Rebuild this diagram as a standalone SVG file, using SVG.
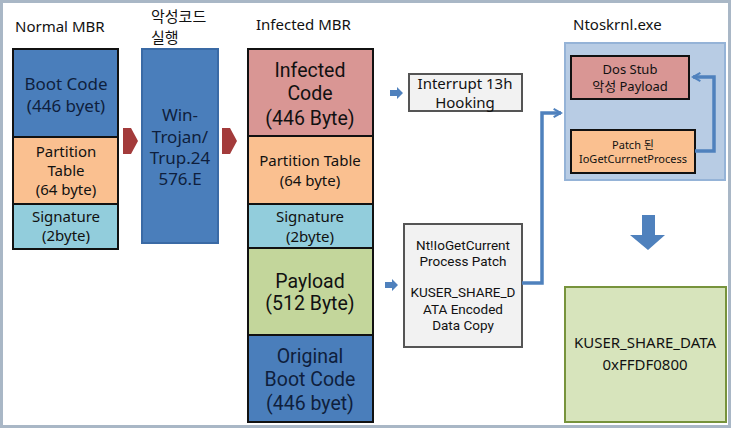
<svg xmlns="http://www.w3.org/2000/svg" width="731" height="428" viewBox="0 0 731 428">
<defs>
<style>
text{font-family:"Noto Sans","Noto Sans CJK KR",sans-serif;text-anchor:middle;fill:#111;}
.big{font-family:Roboto,"Noto Sans",sans-serif;font-size:19.5px;}
.sm{font-family:Roboto,"Noto Sans",sans-serif;font-size:13.5px;}
.dk{fill:#0f1f3d;}
.blk{stroke:#111;stroke-width:2;}
.gray{fill:#f2f2f2;stroke:#555;stroke-width:2;}
.conn{fill:none;stroke:#4f81bd;stroke-width:3.5;}
.h{text-anchor:start;font-size:15px;}
</style>
<marker id="ah" viewBox="0 0 10 10" refX="8" refY="5" markerWidth="3" markerHeight="3.4" orient="auto" markerUnits="strokeWidth">
<path d="M1,1 L8,5 L1,9" fill="none" stroke="#4f81bd" stroke-width="2"/>
</marker>
</defs>
<rect x="0" y="0" width="731" height="428" fill="#fff"/>
<rect x="1.5" y="1.5" width="728" height="425" fill="none" stroke="#a9b7c6" stroke-width="3"/>

<g id="normal-mbr">
<text class="h" x="15" y="32">Normal MBR</text>
<rect x="13" y="49" width="105" height="88" fill="#4a7ebb" class="blk"/>
<rect x="13" y="137" width="105" height="67" fill="#fac090" class="blk"/>
<rect x="13" y="204" width="105" height="45" fill="#92cddc" class="blk"/>
<text class="dk" x="66" y="90" font-size="17">Boot Code</text>
<text class="dk" x="66" y="112" font-size="17">(446 byet)</text>
<text x="66" y="157" font-size="15">Partition</text>
<text x="66" y="176" font-size="15">Table</text>
<text x="66" y="195" font-size="15">(64 byte)</text>
<text x="66" y="222" font-size="15">Signature</text>
<text x="66" y="241" font-size="15">(2byte)</text>
</g>

<g id="malware">
<text class="h" x="151" y="22">악성코드</text>
<text class="h" x="151" y="43">실행</text>
<rect x="142" y="49" width="76" height="194" fill="#4a7ebb" stroke="#3a6aa5" stroke-width="2"/>
<text class="dk" x="180" y="121" font-size="17">Win-</text>
<text class="dk" x="180" y="143" font-size="17">Trojan/</text>
<text class="dk" x="180" y="164" font-size="17">Trup.24</text>
<text class="dk" x="180" y="185" font-size="17">576.E</text>
</g>

<g id="infected-mbr">
<text class="h" x="256" y="30" font-size="14">Infected MBR</text>
<rect x="248" y="49" width="125" height="87" fill="#d99694" class="blk"/>
<rect x="248" y="136" width="125" height="68" fill="#fac090" class="blk"/>
<rect x="248" y="204" width="125" height="44" fill="#92cddc" class="blk"/>
<rect x="248" y="248" width="125" height="87" fill="#c3d69b" class="blk"/>
<rect x="248" y="335" width="125" height="87" fill="#4a7ebb" class="blk"/>
<text class="big" x="310" y="77">Infected</text>
<text class="big" x="310" y="100">Code</text>
<text class="big" x="310" y="125">(446 Byte)</text>
<text x="310" y="166" font-size="15">Partition Table</text>
<text x="310" y="186" font-size="15">(64 byte)</text>
<text x="310" y="222" font-size="15">Signature</text>
<text x="310" y="242" font-size="15">(2byte)</text>
<text class="big" x="310" y="288">Payload</text>
<text class="big" x="310" y="310">(512 Byte)</text>
<text class="big dk" x="310" y="363">Original</text>
<text class="big dk" x="310" y="386">Boot Code</text>
<text class="big dk" x="310" y="410">(446 byet)</text>
</g>

<g id="interrupt">
<rect x="409" y="74" width="113" height="37" class="gray"/>
<text x="465" y="89" font-size="15">Interrupt 13h</text>
<text x="465" y="108" font-size="15">Hooking</text>
</g>

<g id="nt-patch">
<rect x="404" y="224" width="118" height="123" class="gray"/>
<text class="sm" x="463" y="250">Nt!IoGetCurrent</text>
<text class="sm" x="463" y="266">Process Patch</text>
<text class="sm" x="463" y="297">KUSER_SHARE_D</text>
<text class="sm" x="463" y="314">ATA Encoded</text>
<text class="sm" x="463" y="330">Data Copy</text>
</g>

<g id="ntoskrnl">
<text class="h" x="573" y="30">Ntoskrnl.exe</text>
<rect x="565" y="43" width="160" height="137" fill="#b8cce4" stroke="#95b3d7" stroke-width="2"/>
<rect x="571" y="56" width="118" height="43" fill="#d99694" class="blk"/>
<text x="630" y="74" font-size="13">Dos Stub</text>
<text x="630" y="91" font-size="13">악성 Payload</text>
<rect x="571" y="130" width="124" height="43" fill="#fac090" class="blk"/>
<text x="633" y="149" font-size="11">Patch 된</text>
<text x="633" y="163" font-size="11">IoGetCurrnetProcess</text>
</g>

<g id="kuser">
<rect x="565" y="287" width="161" height="135" fill="#d7e4bc" stroke="#77933c" stroke-width="2"/>
<text x="645" y="348" font-size="15">KUSER_SHARE_DATA</text>
<text x="645" y="370" font-size="15">0xFFDF0800</text>
</g>

<g id="connectors">
<path d="M123,128 L131,128 L138,141 L131,154 L123,154 Z" fill="#a33b3b"/>
<path d="M222,128 L230,128 L237,141 L230,154 L222,154 Z" fill="#a33b3b"/>
<path d="M390,90 L397,90 L397,87 L403,93 L397,99 L397,96 L390,96 Z" fill="#4f81bd"/>
<path d="M385,282 L392,282 L392,279 L398,285 L392,291 L392,288 L385,288 Z" fill="#4f81bd"/>
<path d="M522,283 L542,283 L542,113 L561,113" class="conn" marker-end="url(#ah)"/>
<path d="M695,151 L714,151 L714,77 L693,77" class="conn" marker-end="url(#ah)"/>
<path d="M642,215 L655,215 L655,235 L665,235 L648,250 L630,235 L642,235 Z" fill="#4f81bd"/>
</g>
</svg>
